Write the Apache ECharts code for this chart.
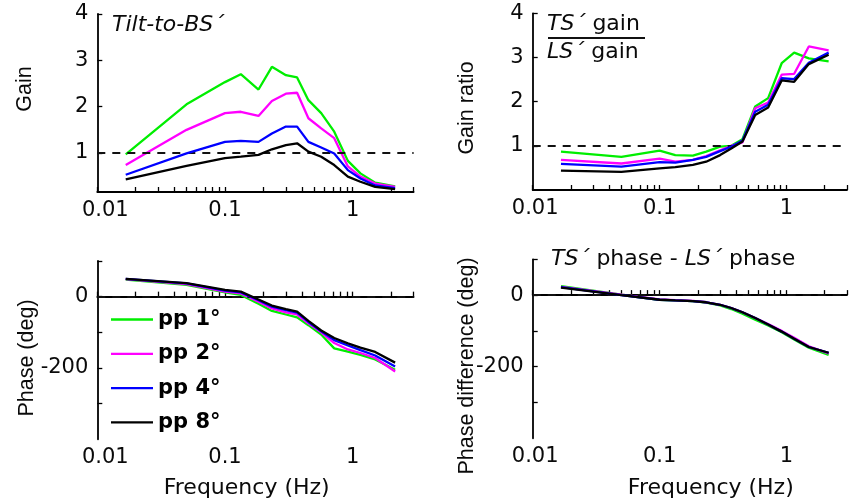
<!DOCTYPE html>
<html>
<head>
<meta charset="utf-8">
<script src="https://cdn.jsdelivr.net/npm/echarts@6/dist/echarts.min.js"></script>
<style>
html,body{margin:0;padding:0;background:#fff;}
#c{width:852px;height:501px;}
</style>
</head>
<body>
<div id="c"></div>
<script>
// ---- data ----
const freq = [0.0167, 0.05, 0.1, 0.133, 0.183, 0.233, 0.3, 0.367, 0.45, 0.567, 0.717, 0.917, 1.15, 1.5, 2.15];
const seriesNames = ['pp 1°', 'pp 2°', 'pp 4°', 'pp 8°'];
const seriesColors = ['#00ee00', '#ff00ff', '#0000ff', '#000000'];

// Tilt-to-BS' gain
const gainPP1 = [0.97, 2.05, 2.53, 2.70, 2.37, 2.86, 2.68, 2.63, 2.14, 1.86, 1.46, 0.83, 0.56, 0.36, 0.28];
const gainPP2 = [0.74, 1.50, 1.86, 1.89, 1.80, 2.12, 2.28, 2.30, 1.75, 1.53, 1.32, 0.71, 0.49, 0.34, 0.27];
const gainPP4 = [0.53, 0.99, 1.24, 1.26, 1.24, 1.42, 1.57, 1.57, 1.24, 1.12, 0.99, 0.63, 0.45, 0.30, 0.24];
const gainPP8 = [0.43, 0.72, 0.89, 0.92, 0.96, 1.08, 1.17, 1.21, 1.03, 0.92, 0.74, 0.49, 0.38, 0.27, 0.22];

// TS' gain / LS' gain
const ratioPP1 = [0.87, 0.75, 0.89, 0.79, 0.78, 0.87, 0.98, 1.00, 1.15, 1.89, 2.08, 2.87, 3.11, 2.98, 2.91];
const ratioPP2 = [0.68, 0.60, 0.71, 0.64, 0.68, 0.77, 0.90, 1.00, 1.08, 1.85, 1.98, 2.61, 2.63, 3.25, 3.16];
const ratioPP4 = [0.59, 0.53, 0.63, 0.62, 0.68, 0.75, 0.88, 0.98, 1.12, 1.77, 1.93, 2.53, 2.51, 2.88, 3.11];
const ratioPP8 = [0.44, 0.41, 0.49, 0.52, 0.57, 0.64, 0.79, 0.94, 1.10, 1.70, 1.87, 2.48, 2.45, 2.85, 3.06];

// Tilt-to-BS' phase (deg)
const phasePP1 = [48, 33, 12, 5, -20, -40, -50, -58, -80, -106, -145, -154, -163, -176, -205];
const phasePP2 = [49, 35, 14, 9, -14, -33, -44, -50, -75, -100, -130, -148, -158, -172, -210];
const phasePP4 = [50, 37, 17, 12, -10, -28, -38, -45, -71, -97, -122, -137, -150, -165, -196];
const phasePP8 = [50, 38, 19, 14, -8, -25, -35, -42, -68, -95, -116, -131, -143, -155, -185];

// TS' phase - LS' phase (deg)
const diffPP1 = [25, 1, -13, -15, -17, -21, -29, -39, -52, -69, -85, -104, -124, -147, -167];
const diffPP2 = [23, 1, -12, -14, -16, -20, -27, -36, -48, -64, -81, -100, -119, -143, -163];
const diffPP4 = [22, 0, -13, -15, -17, -20, -27, -36, -48, -64, -82, -102, -122, -145, -161];
const diffPP8 = [21, 0, -13, -15, -17, -20, -27, -36, -48, -64, -82, -102, -122, -145, -161];

const xLabelValues = [0.01, 0.1, 1];
const xTickValues = [0.01,0.02,0.03,0.04,0.05,0.06,0.07,0.08,0.09,0.1,0.2,0.3,0.4,0.5,0.6,0.7,0.8,0.9,1,2,3];
const gainTicks = [1, 2, 3, 4];
const phaseTicks = [100, 0, -100, -200, -300];
const phaseLabels = [0, -200];
const gainRef = 1;
const phaseRef = 0;

// ---- chart ----
const panels = [
  {data:[gainPP1,gainPP2,gainPP4,gainPP8], ref:gainRef},
  {data:[ratioPP1,ratioPP2,ratioPP4,ratioPP8], ref:gainRef},
  {data:[phasePP1,phasePP2,phasePP4,phasePP8], ref:phaseRef},
  {data:[diffPP1,diffPP2,diffPP4,diffPP8], ref:phaseRef}
];
const grids = [
  {left:97.3, top:14, width:316.3, height:178},
  {left:532.7, top:13.3, width:314.3, height:176.7},
  {left:97.3, top:261, width:316.3, height:178.3},
  {left:532.7, top:259.3, width:314.3, height:179}
];
const yRanges = [[0.158,4],[0,4],[-400,100],[-400,100]];
const labelFont = 'DejaVu Sans';
const axisCol = '#000';
const txtCol = '#0a0a0a';

const xAxes = grids.map((g,i)=>({
  type:'log', logBase:10, gridIndex:i, min:0.01, max:3,
  axisLine:{show:true, lineStyle:{color:axisCol, width:1.8}},
  axisTick:{show:true, inside:true, length:5, lineStyle:{color:axisCol, width:1.3}, customValues:xTickValues},
  splitLine:{show:false},
  axisLabel:{show:true, customValues:xLabelValues, margin:8, color:txtCol, fontFamily:labelFont, fontSize:21,
    formatter:(v)=>{
      if (Math.abs(v-0.01)<1e-6) return i%2===0 ? '{p|0.01}' : '{q|0.01}';
      if (Math.abs(v-0.1)<1e-6) return '0.1';
      return '1';
    },
    rich:{p:{padding:[0,0,0,16], fontFamily:labelFont, fontSize:21, color:txtCol}, q:{padding:[0,0,0,5], fontFamily:labelFont, fontSize:21, color:txtCol}}
  }
}));
const yAxes = grids.map((g,i)=>({
  type:'value', gridIndex:i, min:yRanges[i][0], max:yRanges[i][1],
  axisLine:{show:true, lineStyle:{color:axisCol, width:1.8}},
  axisTick:{show:true, inside:true, length:5, lineStyle:{color:axisCol, width:1.3}, customValues: i<2 ? gainTicks : phaseTicks},
  splitLine:{show:false},
  axisLabel:{show:true, customValues: i<2 ? gainTicks : phaseLabels, margin: 9, color:txtCol, fontFamily:labelFont, fontSize:21,
    formatter:(v)=>String(Math.round(v))}
}));

const series = [];
panels.forEach((p,pi)=>{
  p.data.forEach((vals,si)=>{
    const s = {
      type:'line', name:seriesNames[si], xAxisIndex:pi, yAxisIndex:pi,
      data: freq.map((f,k)=>[f, vals[k]]),
      symbol:'none', showSymbol:false, smooth:false,
      lineStyle:{width:2.3, color:seriesColors[si]},
      itemStyle:{color:seriesColors[si]},
      z: 3+si
    };
    if (si===0) {
      s.markLine = {
        silent:true, symbol:'none', animation:false,
        label:{show:false},
        lineStyle:{type:[8,7], color:'#111', width:2},
        data:[{yAxis:p.ref}]
      };
    }
    series.push(s);
  });
});

const nameFont = 'Liberation Sans';
function vText(txt, x, y){
  return {type:'text', x:x, y:y, rotation:Math.PI/2,
    style:{text:txt, fontFamily:nameFont, fontSize:21.5, fill:txtCol, textAlign:'center', textVerticalAlign:'middle'}};
}
function hText(txt, x, y, align, extra){
  return {type:'text', x:x, y:y,
    style:Object.assign({text:txt, fontFamily:labelFont, fontSize:22, fill:txtCol, textAlign:align, textVerticalAlign:'middle'}, extra||{})};
}
const richIt = {i:{fontStyle:'italic', fontFamily:labelFont, fontSize:22, color:txtCol}, n:{fontFamily:labelFont, fontSize:22, color:txtCol}};

const graphic = [
  vText('Gain', 25, 89),
  vText('Gain ratio', 467, 108),
  vText('Phase (deg)', 27, 358),
  vText('Phase difference (deg)', 467, 366),
  hText('Frequency (Hz)', 246.7, 488, 'center'),
  hText('Frequency (Hz)', 710.8, 488, 'center'),
  hText('Tilt-to-BS´', 112, 25, 'left', {fontStyle:'italic'}),
  hText('{i|TS´}{n| gain}', 547, 24, 'left', {rich:richIt}),
  hText('{i|LS´}{n| gain}', 547, 52, 'left', {rich:richIt}),
  {type:'line', shape:{x1:548, y1:38, x2:645, y2:38}, style:{stroke:'#111', lineWidth:1.8}},
  hText('{i|TS´}{n| phase - }{i|LS´}{n| phase}', 551, 259, 'left', {rich:richIt})
];

const chart = echarts.init(document.getElementById('c'), null, {renderer:'canvas'});
chart.setOption({
  animation:false,
  backgroundColor:'#fff',
  grid: grids,
  xAxis: xAxes,
  yAxis: yAxes,
  series: series,
  legend: {
    show:true, data:seriesNames, orient:'vertical', left:111, top:309, padding:0,
    icon:'rect', itemWidth:42, itemHeight:2.3, itemGap:13.3,
    textStyle:{fontFamily:labelFont, fontWeight:'bold', fontSize:21, color:'#000'},
    selectedMode:false
  },
  graphic: graphic
});
</script>
</body>
</html>
